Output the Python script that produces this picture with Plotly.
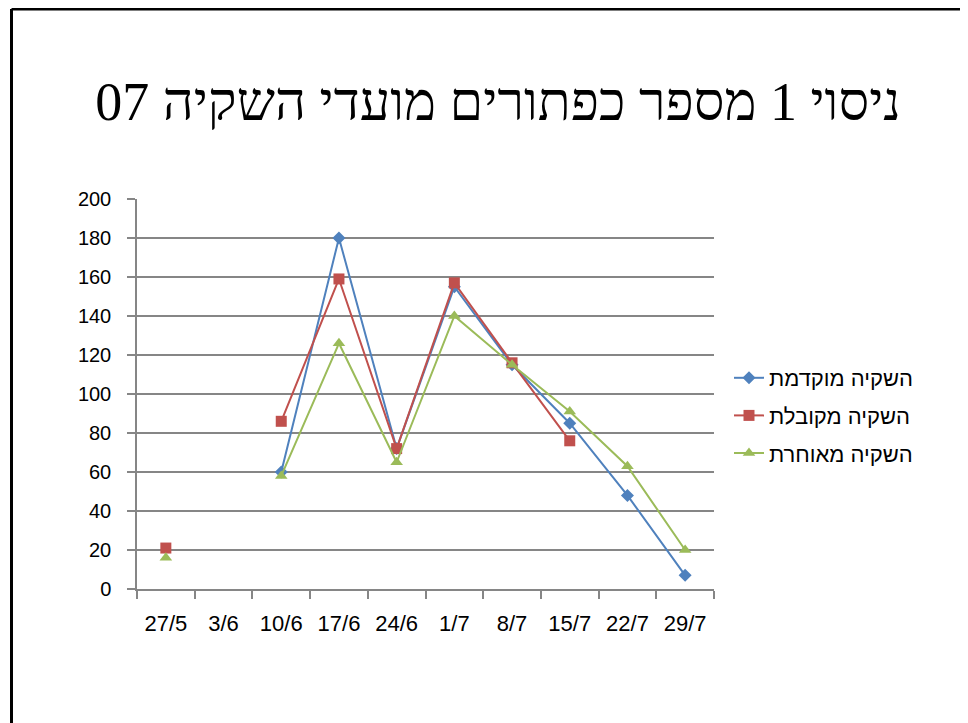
import plotly.graph_objects as go

categories = ["27/5", "3/6", "10/6", "17/6", "24/6", "1/7", "8/7", "15/7", "22/7", "29/7"]
early = [None, None, 60, 180, 72, 155, 115, 85, 48, 7]
normal = [21, None, 86, 159, 72, 157, 116, 76, None, None]
late = [16, None, 58, 126, 65, 140, 115, 91, 63, 20]
y_ticks = [0, 20, 40, 60, 80, 100, 120, 140, 160, 180, 200]

names = ["השקיה מוקדמת", "השקיה מקובלת", "השקיה מאוחרת"]
title = "ניסוי 1 מספר כפתורים מועדי השקיה 07"

# page has an 8px body margin; work in figure pixels (= screen - 8)
OFF = 8
W, H = 960, 715
L, T = 137 - OFF, 199 - OFF
R = W - (714 - OFF)
B = H - (589 - OFF)
pw, ph = W - L - R, H - T - B

fig = go.Figure()
styles = [
    ("#4F81BD", "diamond", 10),
    ("#C0504D", "square", 11),
    ("#9BBB59", "triangle-up", 11),
]
for i, (vals, name, (col, sym, sz)) in enumerate(zip([early, normal, late], names, styles)):
    fig.add_trace(go.Scatter(
        x=categories, y=vals, name=name, mode="lines+markers",
        line=dict(color=col, width=2),
        marker=dict(symbol=sym, size=sz, color=col),
        connectgaps=False, legendgroup=f"g{i}",
    ))

def px_x(p):
    return (p - OFF - L) / pw

def px_y(p):
    return (H - B - (p - OFF)) / ph

# slide border (left and top)
fig.add_shape(type="line", xref="paper", yref="paper",
              x0=px_x(11.5), x1=px_x(975), y0=px_y(9), y1=px_y(9),
              line=dict(color="black", width=3))
fig.add_shape(type="line", xref="paper", yref="paper",
              x0=px_x(11.5), x1=px_x(11.5), y0=px_y(9), y1=px_y(740),
              line=dict(color="black", width=3))

fig.update_layout(
    width=W, height=H,
    margin=dict(l=L, r=R, t=T, b=B),
    paper_bgcolor="white", plot_bgcolor="white",
    title=dict(text=title, x=(498 - OFF) / W, xanchor="center",
               y=1 - (101 - OFF) / H, yanchor="middle",
               font=dict(family="Liberation Serif", size=54, color="black")),
    font=dict(family="Liberation Sans", size=20, color="black"),
    showlegend=True,
    legend=dict(x=px_x(729), y=px_y(357), xanchor="left", yanchor="top",
                font=dict(family="Liberation Sans", size=22, color="black"),
                traceorder="grouped", tracegroupgap=6, itemwidth=30,
                bgcolor="rgba(0,0,0,0)"),
    xaxis=dict(type="category", range=[-0.5, 9.5], showgrid=False,
               showline=True, linecolor="#868686", linewidth=1.5,
               ticks="outside", tickson="boundaries", ticklen=8, tickcolor="#868686",
               tickwidth=1.5, ticklabelstandoff=14,
               tickfont=dict(family="Liberation Sans", size=22, color="black")),
    yaxis=dict(range=[0, 200], tickvals=y_ticks, showgrid=True, gridcolor="#868686",
               gridwidth=1.5, showline=True, linecolor="#868686", linewidth=1.5,
               ticks="outside", ticklen=8, tickcolor="#868686", tickwidth=1.5,
               zeroline=False, ticklabelstandoff=12,
               tickfont=dict(family="Liberation Sans", size=20, color="black")),
)

fig.write_html("out.html")
